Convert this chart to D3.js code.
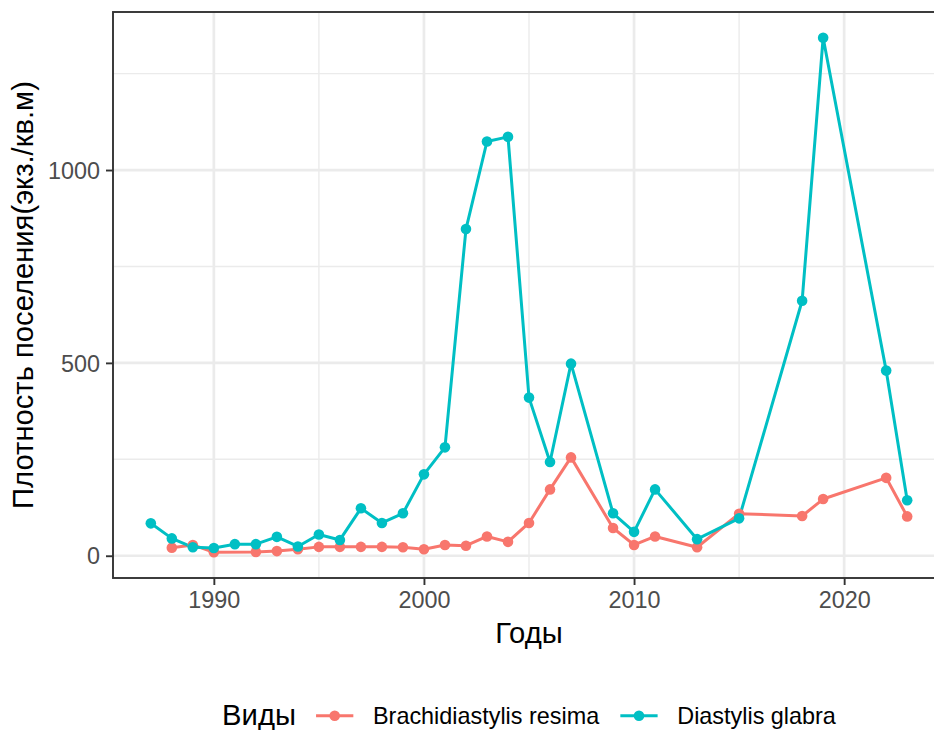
<!DOCTYPE html>
<html>
<head>
<meta charset="utf-8">
<script src="https://cdn.jsdelivr.net/npm/d3@7"></script>
<style>
  body { margin: 0; background: #fff; }
  svg { display: block; font-family: "Liberation Sans", Arial, sans-serif; }
</style>
</head>
<body>
<div class="canvas"></div>
<script>
// data
const seriesNames = ['Brachidiastylis resima', 'Diastylis glabra'];
const seriesColors = ['#F8766D', '#00BFC4'];

const resimaYears = [1988, 1989, 1990, 1992, 1993, 1994, 1995, 1996, 1997, 1998, 1999, 2000,
  2001, 2002, 2003, 2004, 2005, 2006, 2007, 2009, 2010, 2011, 2013, 2015, 2018, 2019, 2022, 2023];
const resimaValues = [21, 28, 9, 10, 12, 17, 23, 23, 23, 23, 22, 17,
  28, 26, 50, 36, 85, 172, 255, 72, 28, 50, 22, 109, 103, 147, 202, 102];

const glabraYears = [1987, 1988, 1989, 1990, 1991, 1992, 1993, 1994, 1995, 1996, 1997, 1998, 1999,
  2000, 2001, 2002, 2003, 2004, 2005, 2006, 2007, 2009, 2010, 2011, 2013, 2015, 2018, 2019, 2022, 2023];
const glabraValues = [84, 45, 22, 20, 30, 30, 49, 24, 55, 41, 123, 85, 110,
  211, 281, 847, 1074, 1086, 410, 243, 498, 110, 62, 172, 43, 97, 661, 1343, 480, 144];

const xTicks = [1990, 2000, 2010, 2020];
const xMinor = [1995, 2005, 2015];
const yTicks = [0, 500, 1000];
const yMinor = [250, 750, 1250];

const xTitle = 'Годы';
const yTitle = 'Плотность поселения(экз./кв.м)';
const legendTitle = 'Виды';

const width = 934, height = 730;
const margin = {top: 12, left: 113, bottom: 152, right: -11};
const plotW = width - margin.left - margin.right;
const plotH = height - margin.top - margin.bottom;

const series = [
  {name: seriesNames[0], color: seriesColors[0], pts: resimaYears.map((y, i) => ({year: y, v: resimaValues[i]}))},
  {name: seriesNames[1], color: seriesColors[1], pts: glabraYears.map((y, i) => ({year: y, v: glabraValues[i]}))}
];

const allYears = resimaYears.concat(glabraYears);
const allVals = resimaValues.concat(glabraValues);

// ggplot style 5% expansion
const expand = (lo, hi) => [lo - (hi - lo) * 0.05, hi + (hi - lo) * 0.05];

const x = d3.scaleLinear()
  .domain(expand(d3.min(allYears), d3.max(allYears)))
  .range([margin.left, margin.left + plotW]);

const y = d3.scaleLinear()
  .domain(expand(d3.min(allVals), d3.max(allVals)))
  .range([margin.top + plotH, margin.top]);

const svg = d3.select('.canvas')
  .append('svg')
  .attr('width', width)
  .attr('height', height);

const grid = svg.append('g');

grid.selectAll('.xminor').data(xMinor).enter().append('line')
  .attr('x1', d => x(d)).attr('x2', d => x(d))
  .attr('y1', margin.top).attr('y2', margin.top + plotH)
  .attr('stroke', '#EBEBEB').attr('stroke-width', 1.4);

grid.selectAll('.yminor').data(yMinor).enter().append('line')
  .attr('x1', margin.left).attr('x2', margin.left + plotW)
  .attr('y1', d => y(d)).attr('y2', d => y(d))
  .attr('stroke', '#EBEBEB').attr('stroke-width', 1.4);

grid.selectAll('.xmajor').data(xTicks).enter().append('line')
  .attr('x1', d => x(d)).attr('x2', d => x(d))
  .attr('y1', margin.top).attr('y2', margin.top + plotH)
  .attr('stroke', '#EBEBEB').attr('stroke-width', 2.7);

grid.selectAll('.ymajor').data(yTicks).enter().append('line')
  .attr('x1', margin.left).attr('x2', margin.left + plotW)
  .attr('y1', d => y(d)).attr('y2', d => y(d))
  .attr('stroke', '#EBEBEB').attr('stroke-width', 2.7);

// lines + points
const line = d3.line().x(d => x(d.year)).y(d => y(d.v));

series.forEach(s => {
  svg.append('path')
    .datum(s.pts)
    .attr('d', line)
    .attr('fill', 'none')
    .attr('stroke', s.color)
    .attr('stroke-width', 3)
    .attr('stroke-linejoin', 'round');
});

series.forEach(s => {
  svg.append('g').selectAll('circle')
    .data(s.pts)
    .enter()
    .append('circle')
    .attr('cx', d => x(d.year))
    .attr('cy', d => y(d.v))
    .attr('r', 5.3)
    .attr('fill', s.color);
});

// panel border
svg.append('rect')
  .attr('x', margin.left).attr('y', margin.top)
  .attr('width', plotW).attr('height', plotH)
  .attr('fill', 'none')
  .attr('stroke', '#333333')
  .attr('stroke-width', 1.9);

// axes
const xAxis = d3.axisBottom(x).tickValues(xTicks).tickFormat(d3.format('d')).tickSize(7).tickPadding(6);
const yAxis = d3.axisLeft(y).tickValues(yTicks).tickFormat(d3.format('d')).tickSize(7).tickPadding(6);

const gx = svg.append('g')
  .attr('transform', `translate(0,${margin.top + plotH})`)
  .call(xAxis);
const gy = svg.append('g')
  .attr('transform', `translate(${margin.left},0)`)
  .call(yAxis);

[gx, gy].forEach(g => {
  g.select('.domain').remove();
  g.selectAll('.tick line').attr('stroke', '#333333').attr('stroke-width', 1.9);
  g.selectAll('.tick text')
    .attr('fill', '#4D4D4D')
    .style('font-size', '23.4px')
    .style('font-family', '"Liberation Sans", Arial, sans-serif');
});
gy.selectAll('.tick text').attr('dy', '0.35em');

// axis titles
svg.append('text')
  .attr('x', margin.left + plotW / 2)
  .attr('y', 643)
  .attr('text-anchor', 'middle')
  .style('font-size', '29.2px')
  .attr('fill', '#000')
  .text(xTitle);

svg.append('text')
  .attr('transform', `translate(33,${margin.top + plotH / 2}) rotate(-90)`)
  .attr('text-anchor', 'middle')
  .style('font-size', '29.2px')
  .attr('fill', '#000')
  .text(yTitle);

// legend
const legend = svg.append('g');
const keyW = 46.6, baseY = 725, keyY = 715.7;
let lx = 0;
const lt = legend.append('text')
  .attr('x', lx).attr('y', baseY)
  .style('font-size', '29.2px')
  .text(legendTitle);
lx += lt.node().getComputedTextLength() + 15.5;

series.forEach((s, i) => {
  const kx = lx;
  legend.append('line')
    .attr('x1', kx + keyW * 0.1).attr('x2', kx + keyW * 0.9)
    .attr('y1', keyY).attr('y2', keyY)
    .attr('stroke', s.color).attr('stroke-width', 3);
  legend.append('circle')
    .attr('cx', kx + keyW / 2).attr('cy', keyY).attr('r', 5.3)
    .attr('fill', s.color);
  lx += keyW + 15;
  const t = legend.append('text')
    .attr('x', lx).attr('y', baseY - 1)
    .style('font-size', '23.4px')
    .text(s.name);
  lx += t.node().getComputedTextLength();
  if (i < series.length - 1) lx += 16.5;
});

legend.attr('transform', `translate(${margin.left + plotW / 2 - lx / 2},0)`);
</script>
</body>
</html>
